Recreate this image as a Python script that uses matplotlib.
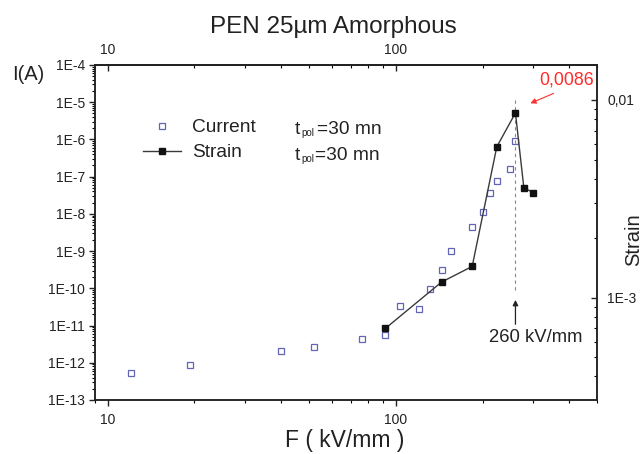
import numpy as np
import matplotlib
matplotlib.use("Agg")
import matplotlib.pyplot as plt
from matplotlib.ticker import LogLocator, FuncFormatter, NullFormatter, FixedLocator

plt.rcParams['font.family'] = ['Liberation Sans', 'DejaVu Sans']

# data
F_current = [12, 19.3, 40, 52, 76, 92, 103, 120, 131, 144, 155, 183, 200, 212, 224, 249, 259]
I_current = [5.4e-13, 8.5e-13, 2.1e-12, 2.6e-12, 4.3e-12, 5.7e-12, 3.4e-11, 2.8e-11, 9.6e-11,
             3.2e-10, 1.0e-9, 4.4e-9, 1.1e-8, 3.7e-8, 7.5e-8, 1.6e-7, 9.1e-7]

F_strain = [92, 144, 184, 224, 260, 278, 300]
S_strain = [7.0e-4, 1.2e-3, 1.44e-3, 5.8e-3, 8.6e-3, 3.6e-3, 3.4e-3]

F_peak = 260
S_peak_label = '0,0086'

txt = '#222222'
W, H = 643, 454

fig = plt.figure(figsize=(W / 100, H / 100), dpi=100)
ax = fig.add_axes([94.5 / W, 1 - 400 / H, (597.3 - 94.5) / W, (400 - 65) / H])
ax2 = ax.twinx()

#current
h_cur, = ax.plot(F_current, I_current, ls='none', marker='s', ms=4.3, mfc='white',
                 mec='#6264b4', mew=0.9)
ax.set_xscale('log')
ax.set_yscale('log')
ax.set_xlim(9, 500)
ax.set_ylim(1e-13, 1e-4)

#strain
h_str, = ax2.plot(F_strain, S_strain, color='#3a3a3a', lw=1.0, marker='s', ms=4.3,
                  mfc='#111111', mec='#111111')
ax2.set_yscale('log')
ax2.set_ylim(3.04e-4, 0.01503)

# ticks
ax.yaxis.set_major_locator(LogLocator(base=10, numticks=30))
ax.yaxis.set_minor_locator(LogLocator(base=10, subs=np.arange(2, 10), numticks=30))
ax.yaxis.set_major_formatter(FuncFormatter(lambda v, p: '1E%d' % round(np.log10(v))))
ax.yaxis.set_minor_formatter(NullFormatter())
ax.xaxis.set_major_formatter(FuncFormatter(lambda v, p: '%g' % v))
ax.xaxis.set_minor_formatter(NullFormatter())
ax.tick_params(axis='both', which='major', direction='out', length=4, width=1, labelsize=10,
               colors=txt, pad=3)
ax.tick_params(axis='both', which='minor', direction='out', length=2.2, width=0.8)
ax.tick_params(axis='y', right=False)
ax.tick_params(axis='x', pad=5)

ax2.yaxis.set_major_locator(FixedLocator([1e-3, 1e-2]))
ax2.yaxis.set_minor_locator(LogLocator(base=10, subs=np.arange(2, 10), numticks=10))
ax2.yaxis.set_major_formatter(FuncFormatter(lambda v, p: {1e-3: '1E-3', 1e-2: '0,01'}.get(round(v, 4), '')))
ax2.yaxis.set_minor_formatter(NullFormatter())
ax2.tick_params(axis='y', which='major', direction='in', length=4.5, width=1, labelsize=10,
                colors=txt, pad=7)
ax2.tick_params(axis='y', which='minor', direction='in', length=2.5, width=0.8)

top = ax.secondary_xaxis('top')
top.xaxis.set_major_locator(FixedLocator([10, 100]))
top.xaxis.set_major_formatter(FuncFormatter(lambda v, p: '%g' % v))
top.xaxis.set_minor_formatter(NullFormatter())
top.tick_params(which='major', direction='in', length=4, width=1, labelsize=10, colors=txt, pad=6)
top.tick_params(which='minor', direction='in', length=2.5, width=0.8)

for a in (ax, ax2):
    for s in a.spines.values():
        s.set_linewidth(1.1)
        s.set_color('#222222')
top.spines['top'].set_linewidth(1.1)

# peak markers
ax.vlines(F_peak, 9.0e-11, 1.4e-5, colors='#888888', linestyles=(0, (3, 3)), lw=0.8)
ax.annotate('', xy=(F_peak, 5.8e-11), xytext=(F_peak, 9.1e-12),
            arrowprops=dict(arrowstyle='-|>', color='#222222', lw=0.9, mutation_scale=8))
ax.text(305, 4.7e-12, '260 kV/mm', ha='center', va='center', fontsize=13.3, color=txt)

ax2.annotate('', xy=(287, 9.5e-3), xytext=(360, 1.094e-2),
             arrowprops=dict(arrowstyle='-|>', color='#ff3030', lw=0.8, mutation_scale=8))
ax2.text(391, 1.263e-2, S_peak_label, ha='center', va='center', fontsize=12.8, color='#ff2a2a')

# legend
ax2.legend([h_cur, h_str], ['Current', 'Strain'], loc='upper left',
           bbox_to_anchor=(143 / W, 1 - 119 / H), bbox_transform=fig.transFigure,
           frameon=False, borderpad=0, borderaxespad=0, handlelength=2.0,
           handletextpad=0.55, labelspacing=0.4, fontsize=13.8, labelcolor=txt)
for yy, xeq in ((127, 317), (153, 315)):
    fig.text(295 / W, 1 - (yy + 6.5) / H, 't', ha='left', va='baseline', fontsize=13.8, color=txt)
    fig.text(301 / W, 1 - (yy + 9) / H, 'pol', ha='left', va='baseline', fontsize=7, color=txt)
    fig.text(xeq / W, 1 - (yy + 6.5) / H, '=30 mn', ha='left', va='baseline', fontsize=13.8,
             color=txt)

# labels
fig.text(333.5 / W, 1 - 27 / H, 'PEN 25µm Amorphous', ha='center', va='center',
         fontsize=17.5, color=txt)
fig.text(345 / W, 1 - 441 / H, 'F ( kV/mm )', ha='center', va='center', fontsize=16.5, color=txt)
fig.text(28 / W, 1 - 75 / H, 'I(A)', ha='center', va='center', fontsize=14.5, color=txt)
fig.text(634 / W, 1 - 240 / H, 'Strain', ha='center', va='center', rotation=90,
         fontsize=14.5, color=txt)

fig.savefig('out.png', dpi=100)
